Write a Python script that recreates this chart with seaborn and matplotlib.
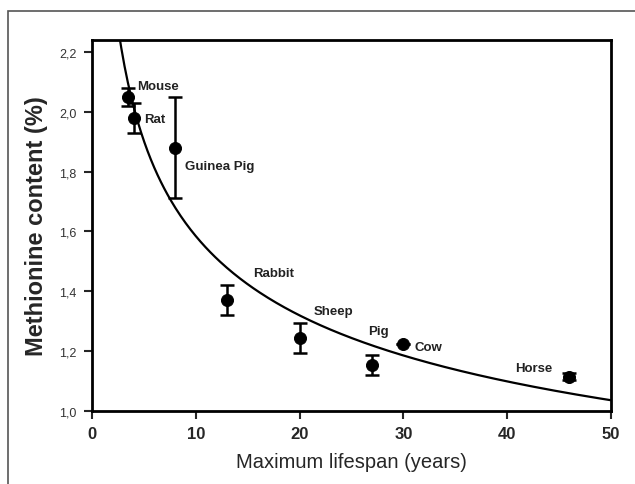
import numpy as np
import pandas as pd
import matplotlib
matplotlib.use("Agg")
import matplotlib.pyplot as plt
import seaborn as sns
from matplotlib.patches import Rectangle

# Dati
species = ["Mouse", "Rat", "Guinea Pig", "Rabbit", "Sheep", "Pig", "Cow", "Horse"]
lifespan = [3.5, 4.0, 8.0, 13.0, 20.0, 27.0, 30.0, 46.0]
methionine = [2.05, 1.98, 1.88, 1.37, 1.244, 1.154, 1.224, 1.114]
err = [0.03, 0.05, 0.168, 0.05, 0.05, 0.032, 0.0, 0.012]

# curva di regressione (potenza)
curve_a = 2.91
curve_b = -0.264

x_ticks = [0, 10, 20, 30, 40, 50]
y_ticks = [1.0, 1.2, 1.4, 1.6, 1.8, 2.0, 2.2]

df = pd.DataFrame({"species": species, "lifespan": lifespan,
                   "methionine": methionine, "err": err})

sns.set_style("white")
plt.rcParams['font.family'] = ['Liberation Sans', 'DejaVu Sans']

fig = plt.figure(figsize=(6.35, 4.85), dpi=100)
ax = fig.add_axes([0.1449, 0.1505, 0.8173, 0.765])

# cornice esterna
fig.patches.append(Rectangle((8 / 635, -0.1), 1.2, 1 - 12 / 485 + 0.1,
                             transform=fig.transFigure, fill=False,
                             edgecolor="#555555", linewidth=1.2))

xs = np.linspace(2.5, 50, 300)
sns.lineplot(x=xs, y=curve_a * xs ** curve_b, ax=ax, color="black", linewidth=1.6)

ax.errorbar(df["lifespan"], df["methionine"], yerr=df["err"], fmt="none",
            ecolor="black", elinewidth=1.8, capsize=5, capthick=1.8, zorder=3)
sns.scatterplot(data=df, x="lifespan", y="methionine", ax=ax, color="black",
                s=75, edgecolor="black", zorder=4)

# etichette delle specie
label_pos = {
    "Mouse": (4.33, 2.087), "Rat": (5.0, 1.977), "Guinea Pig": (8.96, 1.819),
    "Rabbit": (15.5, 1.462), "Sheep": (21.4, 1.334), "Pig": (26.6, 1.268),
    "Cow": (31.1, 1.214), "Horse": (40.8, 1.144),
}
for name, (tx, ty) in label_pos.items():
    ax.text(tx, ty, name, fontsize=9.5, fontweight="bold", color="#222222",
            va="center", ha="left")

ax.set_xlim(0, 50)
ax.set_ylim(1.0, 2.24)
ax.set_xticks(x_ticks)
ax.set_xticklabels([str(t) for t in x_ticks], fontsize=12, fontweight="bold")
ax.set_yticks(y_ticks)
ax.set_yticklabels([f"{t:.1f}".replace(".", ",") for t in y_ticks],
                   fontsize=9, color="#333333")
ax.tick_params(axis="both", direction="out", length=6, width=1.5,
               bottom=True, left=True, top=False, right=False, pad=5)
for sp in ax.spines.values():
    sp.set_linewidth(2)
    sp.set_color("black")

ax.set_xlabel("Maximum lifespan (years)", fontsize=14.5, labelpad=8)
ax.set_ylabel("Methionine content (%)", fontsize=17, fontweight="bold", labelpad=8)
ax.grid(False)

fig.savefig("out.png", dpi=100)
